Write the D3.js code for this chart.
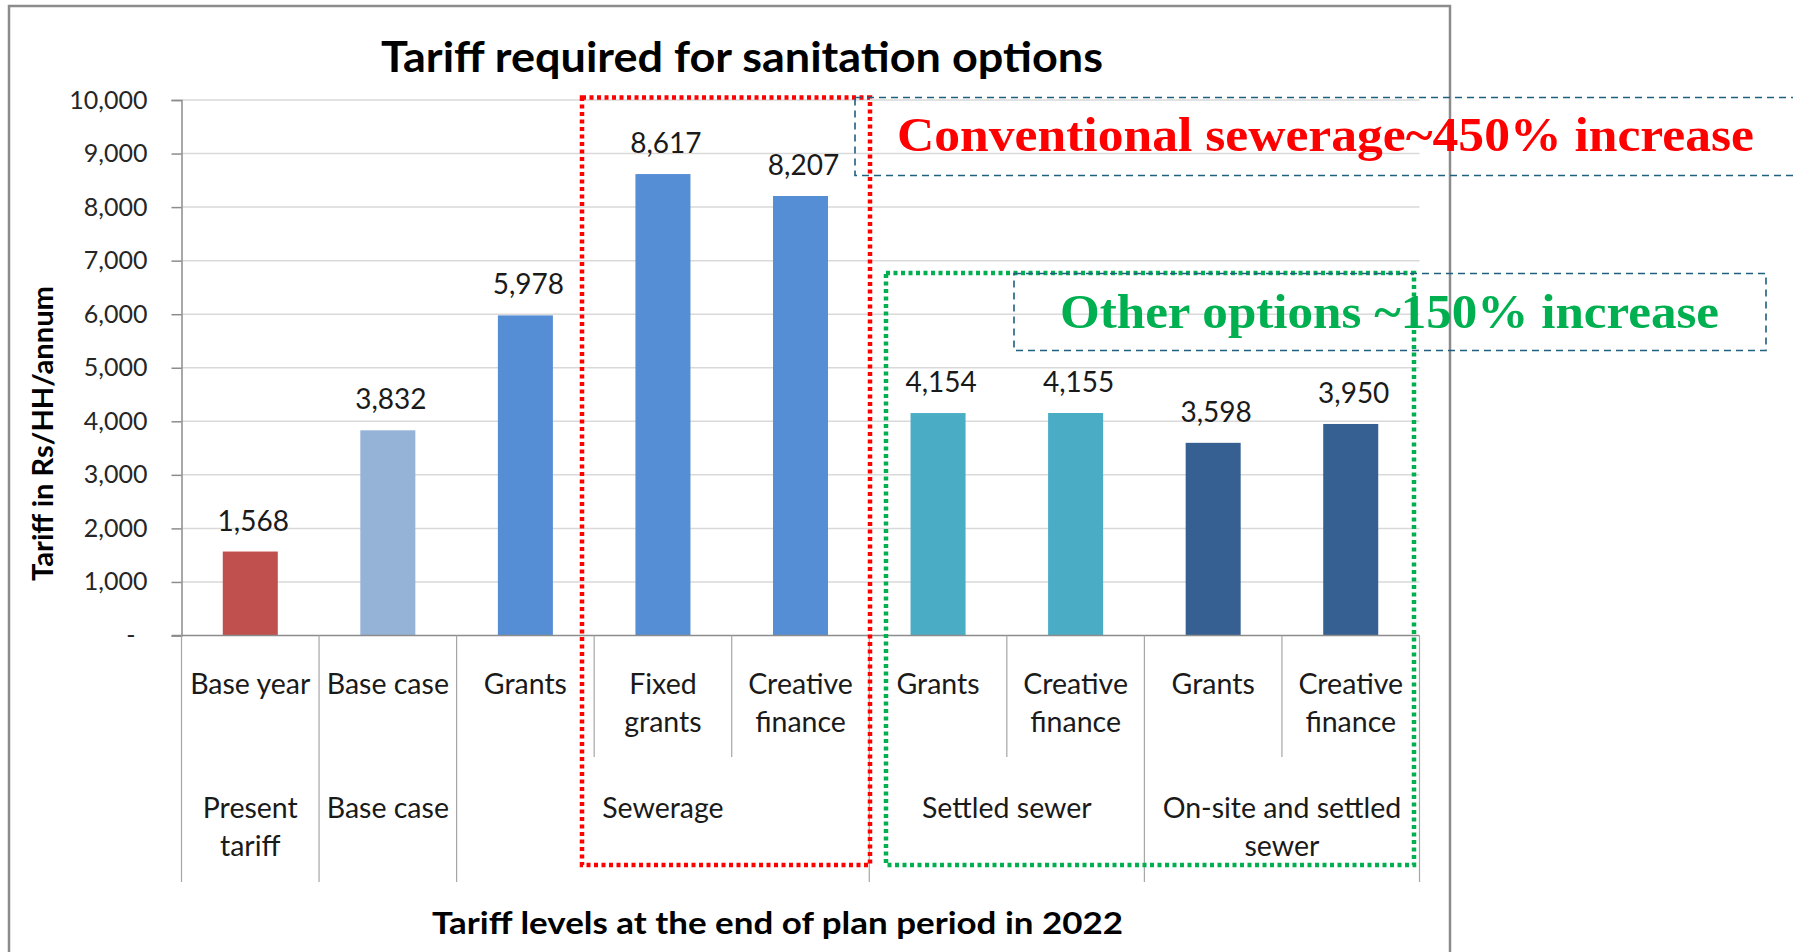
<!DOCTYPE html>
<html>
<head>
<meta charset="utf-8">
<script src="https://cdn.jsdelivr.net/npm/d3@7/dist/d3.min.js"></script>
<style>
  html, body { margin: 0; padding: 0; background: #ffffff; }
  svg { display: block; }
</style>
</head>
<body>
<svg id="chart" width="1793" height="952"></svg>
<script>
// ---------------- data ----------------
const categories = ["Base year", "Base case", "Grants", "Fixed grants", "Creative finance",
                    "Grants", "Creative finance", "Grants", "Creative finance"];
const categoryLines = [["Base year"], ["Base case"], ["Grants"], ["Fixed", "grants"], ["Creative", "finance"],
                       ["Grants"], ["Creative", "finance"], ["Grants"], ["Creative", "finance"]];
const values = [1568, 3832, 5978, 8617, 8207, 4154, 4155, 3598, 3950];
const groupLines = [["Present", "tariff"], ["Base case"], ["Sewerage"], ["Settled sewer"], ["On-site and settled", "sewer"]];
const groupSizes = [1, 1, 3, 2, 2];
const yTicks = [0, 1000, 2000, 3000, 4000, 5000, 6000, 7000, 8000, 9000, 10000];
const titleText = "Tariff required for sanitation options";
const yTitleText = "Tariff in Rs/HH/annum";
const xTitleText = "Tariff levels at the end of plan period in 2022";
const noteSewerage = "Conventional sewerage~450% increase";
const noteOther = "Other options ~150% increase";

// ---------------- styles ----------------
const barColors = ["#C0504D", "#95B3D7", "#558ED5", "#558ED5", "#558ED5", "#4BACC6", "#4BACC6", "#376092", "#376092"];
const sans = "Lato, 'Open Sans', sans-serif";
const serif = "'Liberation Serif', 'DejaVu Serif', serif";

const svg = d3.select("#chart");

// ---------------- layout ----------------
const plot = { left: 181.5, right: 1419.5, top: 100, bottom: 635.5 };

const x = d3.scaleBand()
  .domain(d3.range(categories.length))
  .range([plot.left, plot.right])
  .paddingInner(0.6)
  .paddingOuter(0.3);
const step = x.step();
const catLeft = i => plot.left + i * (plot.right - plot.left) / categories.length;

const y = d3.scaleLinear().domain([0, 10000]).range([plot.bottom, plot.top]);

// chart frame
svg.append("rect")
  .attr("x", 9).attr("y", 6).attr("width", 1441).attr("height", 1000)
  .attr("fill", "none").attr("stroke", "#8c8c8c").attr("stroke-width", 2.5);

// title
svg.append("text")
  .attr("x", 742).attr("y", 72)
  .attr("text-anchor", "middle")
  .attr("font-family", sans).attr("font-weight", "bold").attr("font-size", 42)
  .attr("textLength", 722).attr("lengthAdjust", "spacingAndGlyphs")
  .attr("fill", "#000").text(titleText);

// gridlines
svg.append("g").selectAll("line").data(yTicks.filter(d => d > 0)).join("line")
  .attr("x1", plot.left).attr("x2", plot.right)
  .attr("y1", d => y(d)).attr("y2", d => y(d))
  .attr("stroke", "#d9d9d9").attr("stroke-width", 1.5);

// y axis
const yAxis = d3.axisLeft(y).tickValues(yTicks).tickSize(10).tickPadding(24)
  .tickFormat(d => d === 0 ? "-" : d3.format(",")(d));
const gy = svg.append("g").attr("transform", `translate(${plot.left},0)`).call(yAxis);
gy.select(".domain").attr("stroke", "#8c8c8c").attr("stroke-width", 1.5);
gy.selectAll(".tick line").attr("stroke", "#8c8c8c").attr("stroke-width", 1.5);
gy.selectAll(".tick text")
  .attr("font-family", sans).attr("font-size", 25).attr("fill", "#262626");
gy.selectAll(".tick text").filter(d => d === 0).attr("dx", -12);

// bars
svg.append("g").selectAll("rect").data(values).join("rect")
  .attr("x", (d, i) => x(i))
  .attr("width", x.bandwidth())
  .attr("y", d => y(d))
  .attr("height", d => y(0) - y(d))
  .attr("fill", (d, i) => barColors[i]);

// data labels
svg.append("g").selectAll("text").data(values).join("text")
  .attr("x", (d, i) => x(i) + x.bandwidth() / 2 + 3)
  .attr("y", d => y(d) - 21)
  .attr("text-anchor", "middle")
  .attr("font-family", sans).attr("font-size", 28).attr("fill", "#1a1a1a")
  .text(d => d3.format(",")(d));

// x axis baseline
svg.append("line")
  .attr("x1", 172).attr("x2", plot.right)
  .attr("y1", y(0)).attr("y2", y(0))
  .attr("stroke", "#8c8c8c").attr("stroke-width", 1.5);

// category separators
const groupStarts = [];
let acc = 0;
groupSizes.forEach(s => { groupStarts.push(acc); acc += s; });
const boundarySet = new Set([...groupStarts, categories.length]);
svg.append("g").selectAll("line").data(d3.range(categories.length + 1)).join("line")
  .attr("x1", i => catLeft(i)).attr("x2", i => catLeft(i))
  .attr("y1", y(0))
  .attr("y2", i => boundarySet.has(i) ? 882 : 757)
  .attr("stroke", "#a6a6a6").attr("stroke-width", 1.2);

// category labels (level 1)
const catG = svg.append("g");
categoryLines.forEach((lines, i) => {
  const cx = catLeft(i) + step / 2;
  lines.forEach((ln, j) => {
    catG.append("text")
      .attr("x", cx).attr("y", 693.5 + j * 38)
      .attr("text-anchor", "middle")
      .attr("font-family", sans).attr("font-size", 28.5).attr("fill", "#1a1a1a")
      .text(ln);
  });
});

// group labels (level 2)
const grpG = svg.append("g");
groupLines.forEach((lines, g) => {
  const cx = (catLeft(groupStarts[g]) + catLeft(groupStarts[g] + groupSizes[g])) / 2;
  lines.forEach((ln, j) => {
    grpG.append("text")
      .attr("x", cx).attr("y", 818 + j * 37.5)
      .attr("text-anchor", "middle")
      .attr("font-family", sans).attr("font-size", 28.5).attr("fill", "#1a1a1a")
      .text(ln);
  });
});

// axis titles
svg.append("text")
  .attr("transform", "translate(53,433.5) rotate(-90)")
  .attr("text-anchor", "middle")
  .attr("font-family", sans).attr("font-weight", "bold").attr("font-size", 28)
  .attr("textLength", 295).attr("lengthAdjust", "spacingAndGlyphs")
  .attr("fill", "#000").text(yTitleText);

svg.append("text")
  .attr("x", 777.5).attr("y", 934)
  .attr("text-anchor", "middle")
  .attr("font-family", sans).attr("font-weight", "bold").attr("font-size", 30)
  .attr("textLength", 691).attr("lengthAdjust", "spacingAndGlyphs")
  .attr("fill", "#000").text(xTitleText);

// red dotted box around sewerage
svg.append("rect")
  .attr("x", 582).attr("y", 97.5)
  .attr("width", 870 - 582).attr("height", 865 - 97.5)
  .attr("fill", "none").attr("stroke", "#ff0000").attr("stroke-width", 4.5)
  .attr("stroke-dasharray", "4 3.5");
// green dotted box around other options
svg.append("rect")
  .attr("x", 886).attr("y", 273)
  .attr("width", 1414 - 886).attr("height", 865 - 273)
  .attr("fill", "none").attr("stroke", "#00b050").attr("stroke-width", 4.5)
  .attr("stroke-dasharray", "4 3.5");

// blue dashed text boxes
svg.append("rect")
  .attr("x", 855).attr("y", 97.5)
  .attr("width", 1000).attr("height", 175.5 - 97.5)
  .attr("fill", "none").attr("stroke", "#1f5f7f").attr("stroke-width", 1.6)
  .attr("stroke-dasharray", "7 5");
svg.append("rect")
  .attr("x", 1014).attr("y", 273.5)
  .attr("width", 1766 - 1014).attr("height", 350.5 - 273.5)
  .attr("fill", "none").attr("stroke", "#1f5f7f").attr("stroke-width", 1.6)
  .attr("stroke-dasharray", "7 5");

// annotation texts
svg.append("text")
  .attr("x", 897).attr("y", 151)
  .attr("font-family", serif).attr("font-weight", "bold").attr("font-size", 49)
  .attr("textLength", 857).attr("lengthAdjust", "spacingAndGlyphs")
  .attr("fill", "#ff0000").text(noteSewerage);
svg.append("text")
  .attr("x", 1060).attr("y", 328)
  .attr("font-family", serif).attr("font-weight", "bold").attr("font-size", 49)
  .attr("textLength", 659).attr("lengthAdjust", "spacingAndGlyphs")
  .attr("fill", "#00b050").text(noteOther);
</script>
</body>
</html>
